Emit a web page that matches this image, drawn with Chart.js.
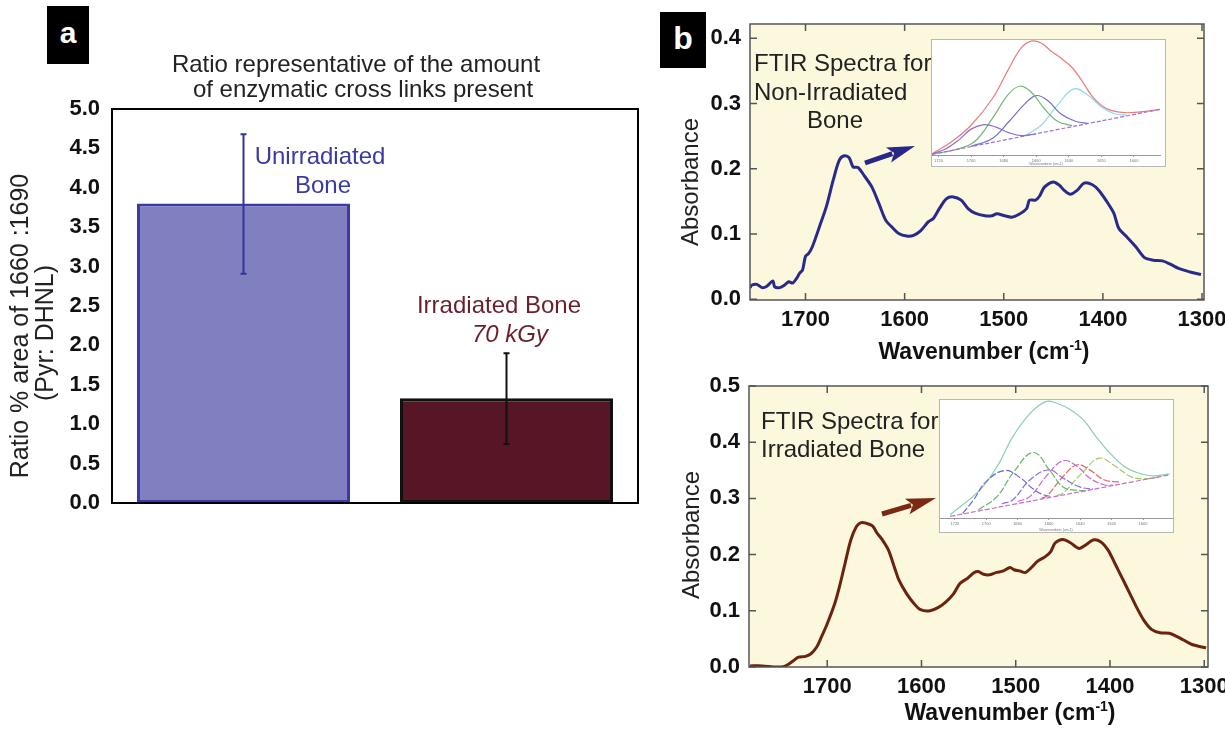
<!DOCTYPE html>
<html>
<head>
<meta charset="utf-8">
<title>Enzymatic cross links and FTIR spectra</title>
<script src="https://cdn.jsdelivr.net/npm/chart.js@4.4.1/dist/chart.umd.min.js"></script>
<style>
  html, body { margin: 0; padding: 0; background: #fff; }
  body { width: 1225px; height: 734px; position: relative; overflow: hidden; font-family: "Liberation Sans", Arial, sans-serif; }
  .pane { position: absolute; }
  .tag { position: absolute; z-index: 5; background: #000; color: #fff; font-weight: bold; text-align: center; }
  .inset { position: absolute; z-index: 3; background: #fff; border: 1px solid #b8b8b8; }
</style>
</head>
<body>
<div class="pane" style="left:0;top:0"><canvas id="ratioChart" width="640" height="525"></canvas></div>
<div class="pane" style="left:660px;top:0"><canvas id="nonIrrChart" width="565" height="370"></canvas></div>
<div class="pane" style="left:660px;top:370px"><canvas id="irrChart" width="565" height="364"></canvas></div>
<div class="inset" style="left:931px;top:39px"><canvas id="nonIrrFit" width="233" height="126"></canvas></div>
<div class="inset" style="left:939px;top:399px"><canvas id="irrFit" width="233" height="132"></canvas></div>
<div class="tag" style="left:47px;top:6px;width:42px;height:58px;line-height:54px;font-size:30px">a</div>
<div class="tag" style="left:660px;top:12px;width:46px;height:56px;line-height:52px;font-size:32px">b</div>

<script>
// ---- panel a: ratio of 1660:1690 areas ----
const groups = ['Unirradiated Bone', 'Irradiated Bone 70 kGy'];
const ratioMean = [3.80, 1.33];
const ratioLow = [2.91, 0.75];
const ratioHigh = [4.68, 1.90];
const ratioTicks = [0, 0.5, 1.0, 1.5, 2.0, 2.5, 3.0, 3.5, 4.0, 4.5, 5.0];

// ---- panel b: FTIR spectra (wavenumber in cm-1, absorbance) ----
const wnTicks = [1700, 1600, 1500, 1400, 1300];
const absTicksTop = [0, 0.1, 0.2, 0.3, 0.4];
const absTicksBottom = [0, 0.1, 0.2, 0.3, 0.4, 0.5];

const wnNonIrr = [1756, 1754, 1749, 1744, 1739, 1733, 1731, 1726, 1721, 1717, 1713, 1709, 1706,
  1703, 1700, 1697, 1693, 1686, 1679, 1672, 1666, 1661, 1656, 1652, 1647, 1641, 1633, 1626,
  1619, 1613, 1606, 1598, 1591, 1584, 1576, 1571, 1565, 1558, 1551, 1543, 1536, 1529, 1519,
  1512, 1507, 1499, 1492, 1485, 1477, 1474, 1468, 1464, 1459, 1450, 1444, 1439, 1433, 1426,
  1419, 1411, 1404, 1397, 1389, 1384, 1376, 1367, 1358, 1349, 1340, 1332, 1323, 1312, 1301];
const absNonIrr = [0.018, 0.022, 0.023, 0.018, 0.020, 0.028, 0.019, 0.018, 0.022, 0.027, 0.025, 0.032, 0.040,
  0.045, 0.066, 0.070, 0.081, 0.111, 0.142, 0.183, 0.213, 0.220, 0.217, 0.203, 0.202, 0.190, 0.172, 0.147,
  0.121, 0.111, 0.101, 0.097, 0.098, 0.105, 0.119, 0.124, 0.139, 0.154, 0.157, 0.152, 0.139, 0.132, 0.128,
  0.128, 0.131, 0.128, 0.126, 0.130, 0.139, 0.152, 0.152, 0.158, 0.172, 0.180, 0.175, 0.167, 0.161, 0.167,
  0.178, 0.176, 0.167, 0.152, 0.132, 0.109, 0.096, 0.081, 0.064, 0.060, 0.059, 0.054, 0.047, 0.042, 0.038];

const wnIrr = [1782, 1769, 1757, 1748, 1742, 1736, 1731, 1723, 1717, 1711, 1706, 1700, 1692, 1687,
  1681, 1675, 1669, 1664, 1659, 1652, 1647, 1641, 1635, 1629, 1624, 1616, 1608, 1601, 1591, 1582,
  1574, 1566, 1559, 1551, 1544, 1540, 1534, 1528, 1521, 1513, 1506, 1502, 1496, 1490, 1484, 1477,
  1469, 1463, 1458, 1450, 1442, 1433, 1425, 1418, 1410, 1402, 1395, 1387, 1379, 1372, 1364, 1356,
  1347, 1337, 1330, 1322, 1313, 1298];
const absIrr = [0.002, 0.002, 0.000, 0.000, 0.004, 0.011, 0.017, 0.019, 0.024, 0.036, 0.054, 0.077, 0.113, 0.143,
  0.185, 0.226, 0.250, 0.257, 0.256, 0.251, 0.238, 0.225, 0.208, 0.179, 0.155, 0.131, 0.113, 0.102, 0.100, 0.106,
  0.116, 0.130, 0.149, 0.158, 0.168, 0.170, 0.165, 0.164, 0.168, 0.171, 0.177, 0.173, 0.171, 0.168, 0.176, 0.188,
  0.196, 0.205, 0.221, 0.227, 0.221, 0.211, 0.218, 0.226, 0.223, 0.208, 0.185, 0.158, 0.131, 0.107, 0.083, 0.067,
  0.061, 0.060, 0.055, 0.048, 0.040, 0.034];

// ---- insets: peak fits of the amide I band, [wavenumber, relative height] ----
const fitTicks = [1720, 1700, 1680, 1660, 1640, 1620, 1600];
const nonIrrSum = [[1724, 0.01], [1712, 0.115], [1700, 0.259], [1687, 0.489], [1677, 0.747], [1669, 0.935],
  [1663, 0.99], [1657, 0.974], [1651, 0.905], [1644, 0.833], [1638, 0.761], [1632, 0.647], [1626, 0.517],
  [1620, 0.431], [1614, 0.388], [1606, 0.368], [1596, 0.375], [1584, 0.397]];
const nonIrrBase = [[1724, 0.006], [1584, 0.397]];
const nonIrrPeak1 = [[1724, 0.01], [1716, 0.05], [1708, 0.125], [1700, 0.225], [1692, 0.264], [1685, 0.244],
  [1677, 0.195], [1669, 0.168], [1660, 0.185]];
const nonIrrPeak2 = [[1724, 0.008], [1710, 0.045], [1698, 0.115], [1687, 0.316], [1677, 0.53], [1670, 0.598],
  [1663, 0.546], [1655, 0.402], [1647, 0.293], [1638, 0.255]];
const nonIrrPeak3 = [[1700, 0.075], [1687, 0.144], [1677, 0.287], [1667, 0.445], [1660, 0.517], [1653, 0.474],
  [1645, 0.359], [1636, 0.293], [1628, 0.274]];
const nonIrrPeak4 = [[1667, 0.165], [1657, 0.259], [1647, 0.431], [1637, 0.575], [1628, 0.517], [1620, 0.417],
  [1612, 0.359], [1604, 0.345]];

const irrSum = [[1723, 0.028], [1704, 0.239], [1693, 0.437], [1683, 0.69], [1672, 0.887], [1662, 0.986],
  [1655, 0.972], [1646, 0.915], [1638, 0.831], [1630, 0.69], [1621, 0.549], [1612, 0.437], [1604, 0.386],
  [1595, 0.358], [1587, 0.366], [1583, 0.375]];
const irrBase = [[1723, 0.014], [1583, 0.366]];
const irrPeak1 = [[1715, 0.04], [1708, 0.155], [1700, 0.31], [1688, 0.403], [1678, 0.338], [1670, 0.245],
  [1664, 0.2], [1658, 0.18]];
const irrPeak2 = [[1705, 0.07], [1693, 0.183], [1683, 0.38], [1670, 0.555], [1659, 0.394], [1651, 0.262],
  [1642, 0.234], [1636, 0.23]];
const irrPeak3 = [[1690, 0.12], [1683, 0.155], [1672, 0.324], [1660, 0.408], [1651, 0.338], [1640, 0.262],
  [1632, 0.245]];
const irrPeak4 = [[1680, 0.14], [1672, 0.183], [1661, 0.366], [1651, 0.485], [1642, 0.437], [1634, 0.338],
  [1625, 0.282], [1619, 0.278]];
const irrPeak5 = [[1665, 0.165], [1661, 0.19], [1651, 0.352], [1642, 0.451], [1634, 0.408], [1625, 0.324],
  [1615, 0.305]];
const irrPeak6 = [[1655, 0.19], [1651, 0.211], [1638, 0.394], [1628, 0.507], [1619, 0.451], [1608, 0.352],
  [1600, 0.332], [1590, 0.345]];

const FONT = '"Liberation Sans", Arial, sans-serif';

const toPoints = (xs, ys) => xs.map((x, i) => ({ x, y: ys[i] }));
const pairPoints = pairs => pairs.map(([x, y]) => ({ x, y }));

function drawLabel(ctx, t) {
  ctx.save();
  ctx.fillStyle = t.color || '#111';
  ctx.translate(t.x, t.y);
  if (t.rotate) ctx.rotate(-Math.PI / 2);
  ctx.textBaseline = t.rotate ? 'middle' : 'alphabetic';
  ctx.textAlign = 'left';
  const parts = t.parts || [{ text: t.text }];
  const widths = parts.map(p => {
    ctx.font = p.sup ? t.supFont : t.font;
    return ctx.measureText(p.text).width;
  });
  const total = widths.reduce((s, w) => s + w, 0);
  let x = t.align === 'left' ? 0 : -total / 2;
  parts.forEach((p, i) => {
    ctx.font = p.sup ? t.supFont : t.font;
    ctx.fillText(p.text, x, p.sup ? -t.supRise : 0);
    x += widths[i];
  });
  ctx.restore();
}

function drawArrow(ctx, a) {
  const dx = a.x2 - a.x1, dy = a.y2 - a.y1;
  const len = Math.hypot(dx, dy);
  const ux = dx / len, uy = dy / len;
  const bx = a.x2 - ux * a.head, by = a.y2 - uy * a.head;
  ctx.save();
  ctx.strokeStyle = a.color;
  ctx.fillStyle = a.color;
  ctx.lineWidth = a.width;
  ctx.beginPath();
  ctx.moveTo(a.x1, a.y1);
  ctx.lineTo(bx + ux * 4, by + uy * 4);
  ctx.stroke();
  ctx.beginPath();
  ctx.moveTo(a.x2, a.y2);
  ctx.lineTo(bx - uy * a.half, by + ux * a.half);
  ctx.lineTo(bx + ux * 6, by + uy * 6);
  ctx.lineTo(bx + uy * a.half, by - ux * a.half);
  ctx.closePath();
  ctx.fill();
  ctx.restore();
}

// background, box frame with inward ticks, free text and arrows
const decor = {
  id: 'decor',
  beforeDraw(chart, args, opts) {
    if (!opts.plotBg) return;
    const { ctx, chartArea: a } = chart;
    ctx.save();
    ctx.fillStyle = opts.plotBg;
    ctx.fillRect(a.left, a.top, a.width, a.height);
    ctx.restore();
  },
  afterDatasetsDraw(chart, args, opts) {
    if (!opts.errorBars) return;
    const { ctx } = chart;
    const y = chart.scales.y;
    const meta = chart.getDatasetMeta(0);
    const eb = opts.errorBars;
    ctx.save();
    ctx.lineWidth = 2;
    meta.data.forEach((bar, i) => {
      const top = y.getPixelForValue(eb.high[i]);
      const bot = y.getPixelForValue(eb.low[i]);
      ctx.strokeStyle = eb.colors[i];
      ctx.beginPath();
      ctx.moveTo(bar.x, top); ctx.lineTo(bar.x, bot);
      ctx.moveTo(bar.x - 3, top); ctx.lineTo(bar.x + 3, top);
      ctx.moveTo(bar.x - 3, bot); ctx.lineTo(bar.x + 3, bot);
      ctx.stroke();
    });
    ctx.restore();
  },
  afterDraw(chart, args, opts) {
    const { ctx, chartArea: a } = chart;
    if (opts.frame) {
      const f = opts.frame;
      ctx.save();
      ctx.strokeStyle = f.color;
      ctx.lineWidth = f.width;
      ctx.strokeRect(a.left, a.top, a.width, a.height);
      if (f.tick) {
        ctx.beginPath();
        chart.scales.x.ticks.forEach(tk => {
          const px = chart.scales.x.getPixelForValue(tk.value);
          ctx.moveTo(px, a.bottom); ctx.lineTo(px, a.bottom - f.tick);
          ctx.moveTo(px, a.top); ctx.lineTo(px, a.top + f.tick);
        });
        chart.scales.y.ticks.forEach(tk => {
          const py = chart.scales.y.getPixelForValue(tk.value);
          ctx.moveTo(a.left, py); ctx.lineTo(a.left + f.tick, py);
          ctx.moveTo(a.right, py); ctx.lineTo(a.right - f.tick, py);
        });
        ctx.stroke();
      }
      ctx.restore();
    }
    (opts.texts || []).forEach(t => drawLabel(ctx, t));
    (opts.arrows || []).forEach(ar => drawArrow(ctx, ar));
  }
};

const tickFont = { family: FONT, size: 22, weight: 'bold' };

// ---- panel a ----
new Chart(document.getElementById('ratioChart'), {
  type: 'bar',
  data: {
    labels: groups,
    datasets: [{
      data: ratioMean,
      backgroundColor: ['#8080c0', '#561626'],
      borderColor: ['#3a3aa6', '#111111'],
      borderWidth: 3,
      borderSkipped: false,
      barPercentage: 0.81,
      categoryPercentage: 1
    }]
  },
  options: {
    responsive: false,
    animation: false,
    layout: { padding: { left: 0, right: 2, top: 109, bottom: 0 } },
    plugins: {
      legend: { display: false },
      tooltip: { enabled: false },
      decor: {
        frame: { color: '#000', width: 2 },
        errorBars: { low: ratioLow, high: ratioHigh, colors: ['#33339a', '#111111'] },
        texts: [
          { text: 'Ratio representative of the amount', x: 356, y: 72, font: '24px ' + FONT, color: '#222' },
          { text: 'of enzymatic cross links present', x: 363, y: 97, font: '24px ' + FONT, color: '#222' },
          { text: 'Ratio % area of 1660 :1690', x: 21, y: 326, rotate: true, font: '25px ' + FONT, color: '#222' },
          { text: '(Pyr: DHNL)', x: 46, y: 333, rotate: true, font: '25px ' + FONT, color: '#222' },
          { text: 'Unirradiated', x: 320, y: 164, font: '24px ' + FONT, color: '#3a3aa0' },
          { text: 'Bone', x: 323, y: 193, font: '24px ' + FONT, color: '#3a3aa0' },
          { text: 'Irradiated Bone', x: 499, y: 313, font: '24px ' + FONT, color: '#6a1f2c' },
          { text: '70 kGy', x: 510, y: 342, font: 'italic 24px ' + FONT, color: '#6a1f2c' }
        ]
      }
    },
    scales: {
      x: {
        ticks: { display: false },
        grid: { display: false, drawTicks: false },
        border: { display: false },
        afterFit: s => { s.height = 22; s.paddingLeft = 0; s.paddingRight = 0; }
      },
      y: {
        min: 0,
        max: 5,
        afterBuildTicks: s => { s.ticks = ratioTicks.map(v => ({ value: v })); },
        afterFit: s => { s.width = 112; s.paddingTop = 0; s.paddingBottom = 0; },
        grid: { display: false, drawTicks: false },
        border: { display: false },
        ticks: { font: tickFont, color: '#111', padding: 12, callback: v => v.toFixed(1) }
      }
    }
  },
  plugins: [decor]
});

// ---- panel b, spectra ----
function spectrumChart(id, cfg) {
  return new Chart(document.getElementById(id), {
    type: 'line',
    data: {
      datasets: [{
        data: cfg.points,
        borderColor: cfg.color,
        borderWidth: 3,
        pointRadius: 0,
        tension: 0.3,
        fill: false
      }]
    },
    options: {
      responsive: false,
      animation: false,
      layout: { padding: cfg.padding },
      plugins: {
        legend: { display: false },
        tooltip: { enabled: false },
        decor: {
          plotBg: '#fcf8dd',
          frame: { color: '#555', width: 1.5, tick: 7 },
          texts: cfg.texts,
          arrows: [cfg.arrow]
        }
      },
      scales: {
        x: {
          type: 'linear',
          reverse: true,
          min: cfg.xMin,
          max: cfg.xMax,
          afterBuildTicks: s => { s.ticks = wnTicks.map(v => ({ value: v })); },
          afterFit: s => { s.height = cfg.xHeight; s.paddingLeft = 0; s.paddingRight = 0; },
          grid: { display: false, drawTicks: false },
          border: { display: false },
          ticks: { font: tickFont, color: '#111', padding: 7, maxRotation: 0, autoSkip: false, callback: v => String(v) }
        },
        y: {
          min: cfg.yMin,
          max: cfg.yMax,
          afterBuildTicks: s => { s.ticks = cfg.yTicks.map(v => ({ value: v })); },
          afterFit: s => { s.width = cfg.yWidth; s.paddingTop = 0; s.paddingBottom = 0; },
          grid: { display: false, drawTicks: false },
          border: { display: false },
          ticks: { font: tickFont, color: '#111', padding: 9, callback: v => v.toFixed(1) }
        }
      }
    },
    plugins: [decor]
  });
}

const xTitle = (x, y) => ({
  x, y, font: 'bold 23px ' + FONT, supFont: 'bold 14px ' + FONT, supRise: 9, color: '#111',
  parts: [{ text: 'Wavenumber (cm' }, { text: '-1', sup: true }, { text: ')' }]
});

spectrumChart('nonIrrChart', {
  points: toPoints(wnNonIrr, absNonIrr),
  color: '#2a2a8a',
  padding: { left: 0, right: 21, top: 24, bottom: 0 },
  xMin: 1298, xMax: 1756, xHeight: 70,
  yMin: -0.001, yMax: 0.422, yWidth: 90, yTicks: absTicksTop,
  texts: [
    { text: 'Absorbance', x: 31, y: 182, rotate: true, font: '24px ' + FONT, color: '#222' },
    xTitle(324, 359),
    { text: 'FTIR Spectra for', x: 94, y: 71, align: 'left', font: '24px ' + FONT, color: '#222' },
    { text: 'Non-Irradiated', x: 94, y: 100, align: 'left', font: '24px ' + FONT, color: '#222' },
    { text: 'Bone', x: 147, y: 128, align: 'left', font: '24px ' + FONT, color: '#222' }
  ],
  arrow: { x1: 205, y1: 163, x2: 255, y2: 146, head: 28, half: 8, width: 5, color: '#28288c' }
});

spectrumChart('irrChart', {
  points: toPoints(wnIrr, absIrr),
  color: '#6b220f',
  padding: { left: 0, right: 17, top: 16, bottom: 0 },
  xMin: 1296, xMax: 1783, xHeight: 67,
  yMin: 0, yMax: 0.5, yWidth: 89, yTicks: absTicksBottom,
  texts: [
    { text: 'Absorbance', x: 32, y: 165, rotate: true, font: '24px ' + FONT, color: '#222' },
    xTitle(350, 350),
    { text: 'FTIR Spectra for', x: 101, y: 59, align: 'left', font: '24px ' + FONT, color: '#222' },
    { text: 'Irradiated Bone', x: 101, y: 87, align: 'left', font: '24px ' + FONT, color: '#222' }
  ],
  arrow: { x1: 222, y1: 144, x2: 276, y2: 128, head: 30, half: 8, width: 5, color: '#7a2a12' }
});

// ---- insets ----
function fitChart(id, cfg) {
  const sets = cfg.series.map(s => ({
    data: pairPoints(s.pts),
    borderColor: s.color,
    borderWidth: 1.2,
    borderDash: s.dash || [],
    pointRadius: 0,
    tension: 0.4,
    fill: false
  }));
  return new Chart(document.getElementById(id), {
    type: 'line',
    data: { datasets: sets },
    options: {
      responsive: false,
      animation: false,
      layout: { padding: { left: 0, right: cfg.right, top: 0, bottom: 0 } },
      plugins: { legend: { display: false }, tooltip: { enabled: false } },
      scales: {
        x: {
          type: 'linear',
          reverse: true,
          min: cfg.xMin,
          max: cfg.xMax,
          afterBuildTicks: s => { s.ticks = fitTicks.map(v => ({ value: v })); },
          afterFit: s => { s.height = cfg.xHeight; s.paddingLeft = 0; s.paddingRight = 0; },
          grid: { drawOnChartArea: false, tickLength: 2, color: '#999' },
          border: { color: '#999', width: 1 },
          ticks: { font: { family: FONT, size: 4 }, color: '#777', padding: 1, maxRotation: 0, autoSkip: false, callback: v => String(v) },
          title: { display: true, text: 'Wavenumbers (cm-1)', font: { family: FONT, size: 3.5 }, color: '#777', padding: 0 }
        },
        y: { display: false, min: 0, max: cfg.yMax }
      }
    }
  });
}

fitChart('nonIrrFit', {
  xMin: 1584, xMax: 1724, xHeight: 11, right: 5, yMax: 1.0,
  series: [
    { pts: nonIrrBase, color: '#a070d0', dash: [4, 2] },
    { pts: nonIrrPeak1, color: '#8870d0' },
    { pts: nonIrrPeak2, color: '#70b870' },
    { pts: nonIrrPeak3, color: '#7070cc' },
    { pts: nonIrrPeak4, color: '#8fdbea' },
    { pts: nonIrrSum, color: '#e87c7c' }
  ]
});

fitChart('irrFit', {
  xMin: 1581.5, xMax: 1729.5, xHeight: 14, right: 1, yMax: 1.0,
  series: [
    { pts: irrBase, color: '#c070c8', dash: [5, 2] },
    { pts: irrPeak1, color: '#6a6ad4', dash: [7, 2] },
    { pts: irrPeak2, color: '#66b866', dash: [7, 2] },
    { pts: irrPeak3, color: '#8a70dd', dash: [7, 2] },
    { pts: irrPeak4, color: '#cc66d6', dash: [7, 2] },
    { pts: irrPeak5, color: '#e06a6a', dash: [7, 2] },
    { pts: irrPeak6, color: '#9ccc66', dash: [7, 2] },
    { pts: irrSum, color: '#88d0b0' }
  ]
});
</script>
</body>
</html>
